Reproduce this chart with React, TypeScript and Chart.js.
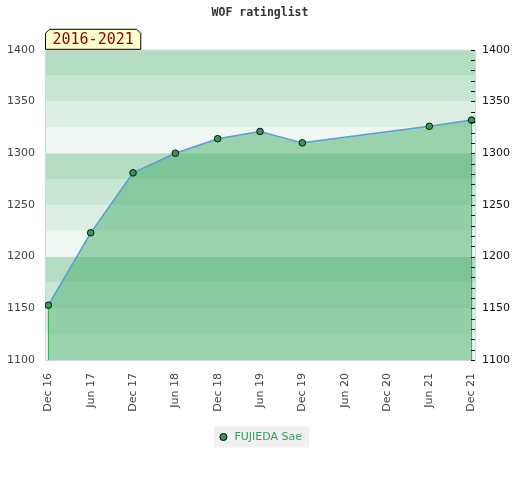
import React, { useEffect, useRef } from "react";
import { Chart, registerables } from "chart.js";

Chart.register(...registerables);

const labels = ["Dec 16", "Jun 17", "Dec 17", "Jun 18", "Dec 18", "Jun 19", "Dec 19", "Jun 20", "Dec 20", "Jun 21", "Dec 21"];
const ratings: (number | null)[] = [1153, 1223, 1281, 1300, 1314, 1321, 1310, null, null, 1326, 1332];
const yTicks = [1100, 1150, 1200, 1250, 1300, 1350, 1400];
const seriesName = "FUJIEDA Sae";
const periodLabel = "2016-2021";
const titleText = "WOF ratinglist";
const bandColors = ["#eef7f1", "#ddeee3", "#c8e6d3", "#b3dcc3"];

const yMin = yTicks[0];
const yMax = yTicks[yTicks.length - 1];

const decor = {
  id: "decor",
  beforeDraw(chart: any) {
    const { ctx, chartArea: a, scales } = chart;
    const y = scales.y;
    ctx.save();
    for (let v = yMin; v < yMax; v += 25) {
      const idx = Math.round((v - yMin) / 25) % 4;
      const top = y.getPixelForValue(v + 25);
      const bot = y.getPixelForValue(v);
      ctx.fillStyle = bandColors[idx];
      ctx.fillRect(a.left, top, a.right - a.left, bot - top);
    }
    ctx.strokeStyle = "#d6d6d6";
    ctx.lineWidth = 1;
    ctx.strokeRect(a.left + 0.5, a.top + 0.5, a.right - a.left, a.bottom - a.top);
    const lg = chart.legend;
    if (lg && lg.legendHitBoxes && lg.legendHitBoxes.length) {
      const h = lg.legendHitBoxes[0];
      ctx.fillStyle = "#f0f0f0";
      ctx.fillRect(h.left - 4, h.top - 5, h.width + 11, h.height + 10);
    }
    ctx.restore();
  },
  beforeDatasetDraw(chart: any, args: any) {
    const { ctx, chartArea: a } = chart;
    const meta = chart.getDatasetMeta(args.index);
    const pts = meta.data;
    if (!pts.length) return;
    ctx.save();
    ctx.strokeStyle = "#2ea451";
    ctx.lineWidth = 1;
    [pts[0], pts[pts.length - 1]].forEach((p: any) => {
      ctx.beginPath();
      ctx.moveTo(p.x, p.y);
      ctx.lineTo(p.x, a.bottom);
      ctx.stroke();
    });
    ctx.restore();
  },
  afterDatasetsDraw(chart: any) {
    const { ctx, chartArea: a, scales } = chart;
    const y2 = scales.y2;
    ctx.save();
    ctx.strokeStyle = "#111";
    ctx.lineWidth = 1;
    y2.ticks.forEach((t: any) => {
      const py = Math.round(y2.getPixelForValue(t.value)) + 0.5;
      ctx.beginPath();
      ctx.moveTo(a.right - 4, py);
      ctx.lineTo(a.right, py);
      ctx.stroke();
    });
    ctx.restore();
  },
  afterDraw(chart: any) {
    const { ctx, chartArea: a } = chart;
    ctx.save();
    ctx.font = "15px 'DejaVu Sans Mono'";
    const tw = ctx.measureText(periodLabel).width;
    const x0 = a.left + 0.5;
    const x1 = a.left + tw + 14.5;
    const y0 = a.top - 20.5;
    const y1 = a.top - 0.5;
    const c = 4;
    ctx.beginPath();
    ctx.moveTo(x0, y1);
    ctx.lineTo(x0, y0 + c);
    ctx.lineTo(x0 + c, y0);
    ctx.lineTo(x1 - c, y0);
    ctx.lineTo(x1, y0 + c);
    ctx.lineTo(x1, y1);
    ctx.closePath();
    ctx.fillStyle = "#ffffcc";
    ctx.fill();
    ctx.strokeStyle = "#000";
    ctx.lineWidth = 1;
    ctx.stroke();
    ctx.fillStyle = "#8b0000";
    ctx.textBaseline = "middle";
    ctx.textAlign = "left";
    ctx.fillText(periodLabel, x0 + 7, (y0 + y1) / 2 + 0.5);
    ctx.restore();
  },
};

export default function App() {
  const ref = useRef<HTMLCanvasElement>(null);
  useEffect(() => {
    Chart.defaults.font.family = "'DejaVu Sans'";
    const points = ratings
      .map((v, i) => (v == null ? null : { x: i, y: v }))
      .filter((p) => p !== null) as { x: number; y: number }[];
    const tickFont = { family: "'DejaVu Sans'", size: 11 };
    const chart = new Chart(ref.current!, {
      type: "line",
      data: {
        datasets: [
          {
            label: seriesName,
            data: points,
            borderColor: "#5b9bd5",
            borderWidth: 1.5,
            backgroundColor: "rgba(71,173,107,0.5)",
            fill: "start",
            tension: 0,
            pointRadius: 3.3,
            pointBackgroundColor: "#339955",
            pointBorderColor: "#111",
            pointBorderWidth: 1,
          },
        ],
      },
      options: {
        animation: false,
        responsive: true,
        maintainAspectRatio: false,
        layout: { padding: { left: 0, right: 0, top: 0, bottom: 27.5 } },
        scales: {
          x: {
            type: "linear",
            min: -0.08,
            max: labels.length - 1 + 0.08,
            afterBuildTicks: (s: any) => {
              s.ticks = labels.map((_, i) => ({ value: i }));
            },
            afterFit: (s: any) => {
              s.height = 63.5;
            },
            ticks: {
              callback: (v: any) => labels[v as number],
              autoSkip: false,
              maxRotation: 90,
              minRotation: 90,
              padding: 13,
              color: "#444",
              font: tickFont,
            },
            grid: { display: false, drawTicks: false },
            border: { display: false },
          },
          y: {
            type: "linear",
            position: "left",
            min: yMin,
            max: yMax,
            afterBuildTicks: (s: any) => {
              s.ticks = yTicks.map((v) => ({ value: v }));
            },
            afterFit: (s: any) => {
              s.width = 45;
            },
            ticks: { padding: 10, color: "#444", font: tickFont, callback: (v: any) => String(v) },
            grid: { display: false, drawTicks: false },
            border: { display: false },
          },
          y2: {
            type: "linear",
            position: "right",
            min: yMin,
            max: yMax,
            afterFit: (s: any) => {
              s.width = 45;
            },
            ticks: {
              stepSize: 10,
              maxTicksLimit: 100,
              autoSkip: false,
              padding: 7,
              color: "#111",
              font: tickFont,
              callback: (v: any) => (Number(v) % 50 === 0 ? String(v) : ""),
            },
            grid: { display: false, drawTicks: false },
            border: { display: false },
          },
        },
        plugins: {
          title: {
            display: true,
            text: titleText,
            color: "#333",
            font: { family: "'DejaVu Sans Mono'", size: 11.5, weight: "bold" },
            padding: { top: 6, bottom: 30 },
          },
          legend: {
            position: "bottom",
            labels: {
              font: { family: "'DejaVu Sans'", size: 11 },
              color: "#33a057",
              usePointStyle: true,
              boxWidth: 16,
              boxHeight: 5,
              padding: 8,
              generateLabels: () => [
                {
                  text: seriesName,
                  fillStyle: "#339955",
                  strokeStyle: "#000",
                  lineWidth: 1,
                  pointStyle: "circle",
                  fontColor: "#33a057",
                  hidden: false,
                  datasetIndex: 0,
                } as any,
              ],
            },
          },
          tooltip: { enabled: false },
        },
      },
      plugins: [decor],
    } as any);
    return () => chart.destroy();
  }, []);
  return (
    <div style={{ position: "fixed", left: 0, top: 0, width: 520, height: 480, background: "#fff" }}>
      <canvas ref={ref} />
    </div>
  );
}
